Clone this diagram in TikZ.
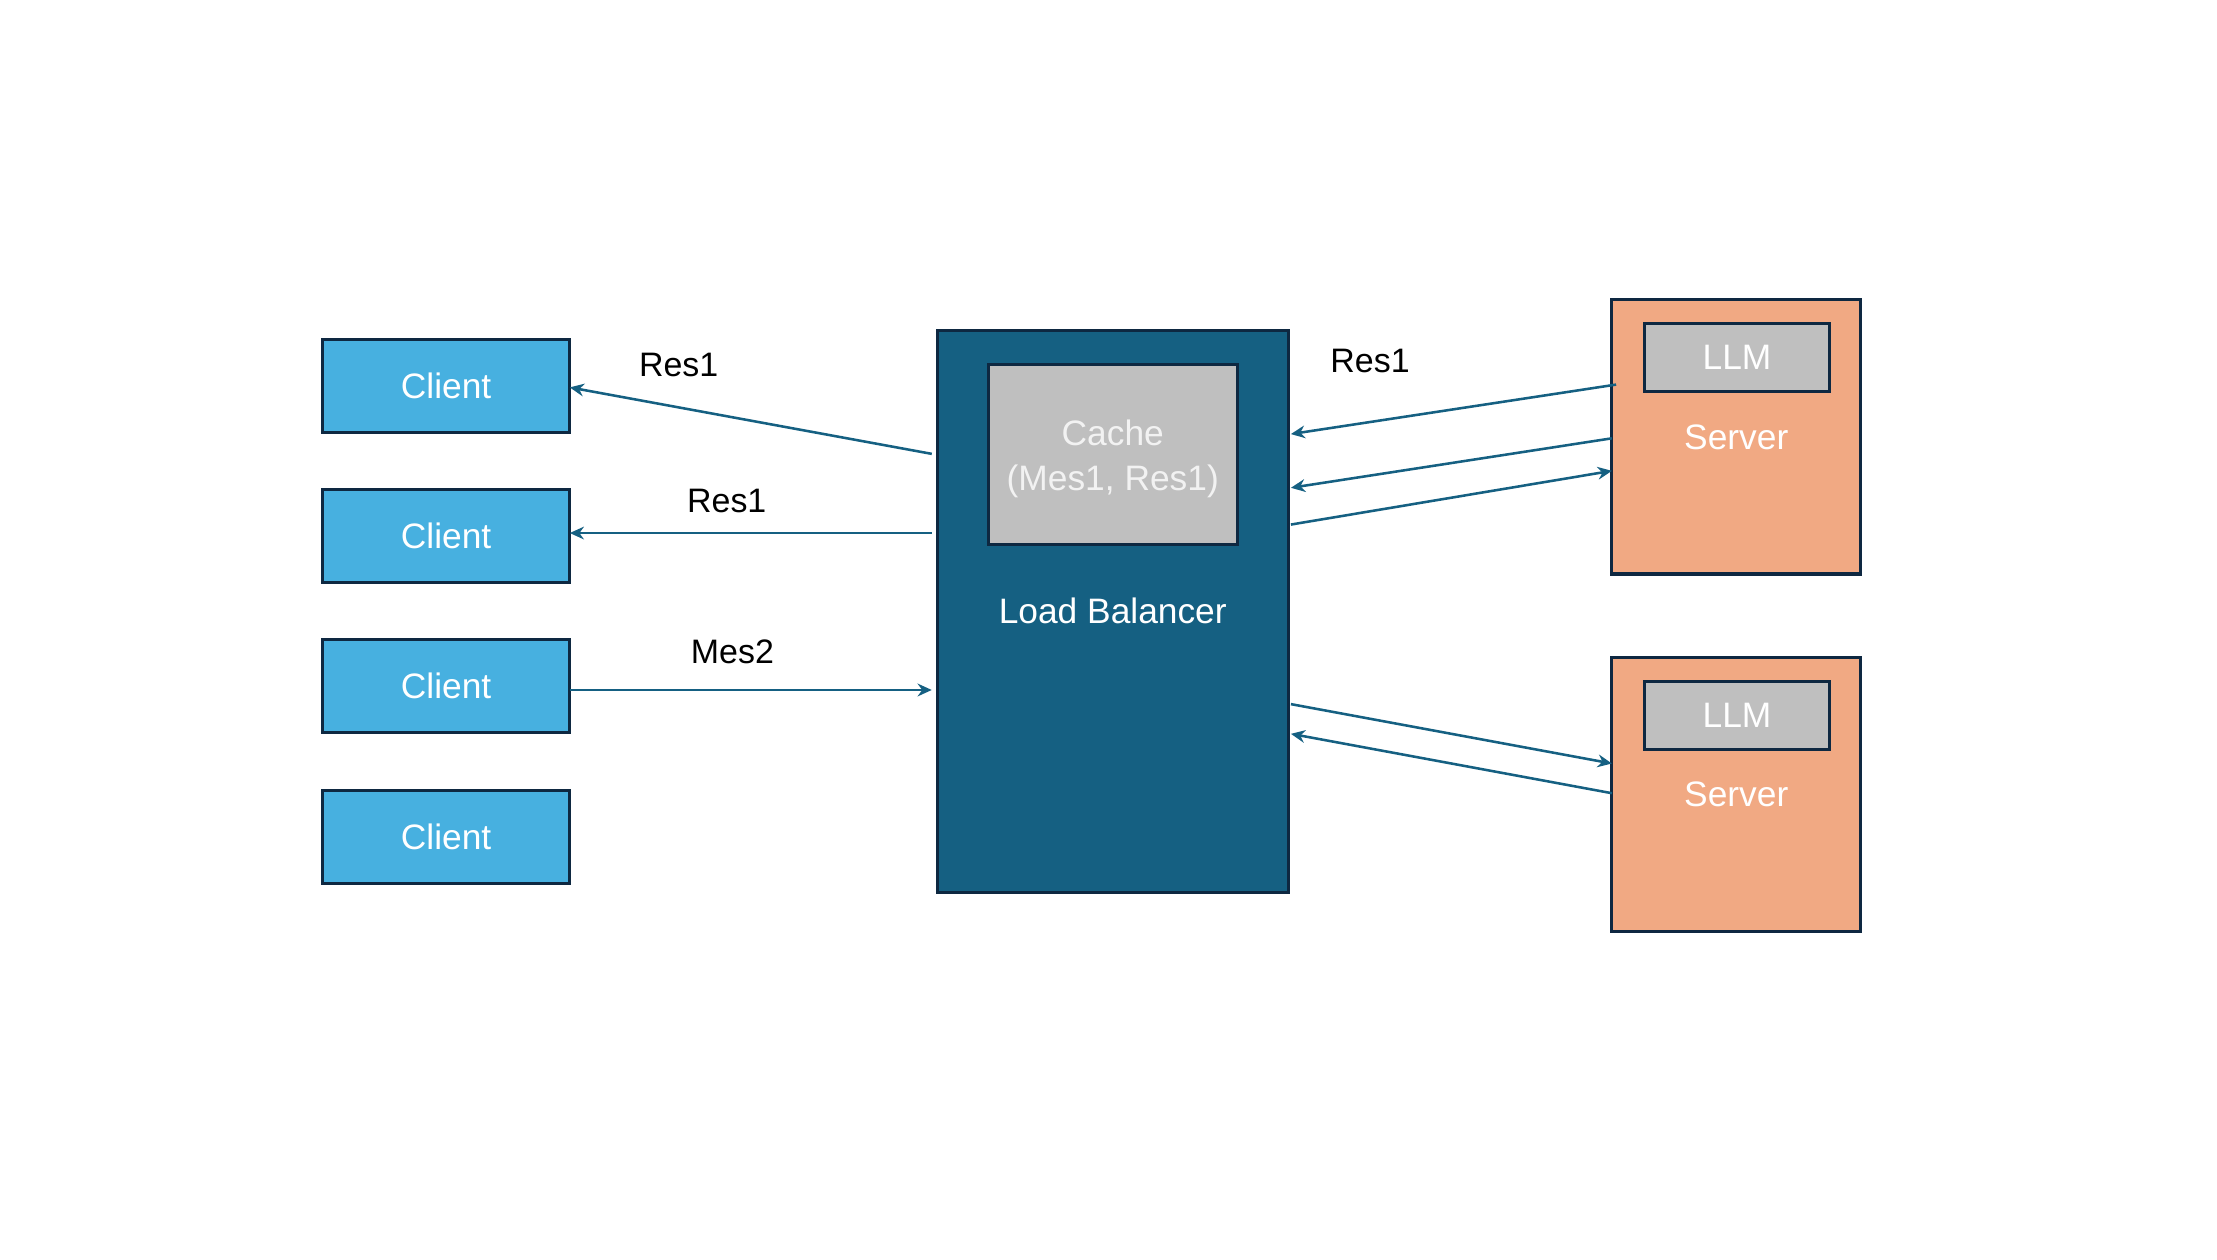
\documentclass[tikz,border=0pt]{standalone}
\usepackage{fontspec}
\setmainfont{Liberation Sans}
\usetikzlibrary{arrows.meta}
\definecolor{clientblue}{HTML}{47B0E0}
\definecolor{lbblue}{HTML}{156082}
\definecolor{edge}{HTML}{0E2841}
\definecolor{cachegray}{HTML}{BFBFBF}
\definecolor{serverorange}{HTML}{F1A983}
\definecolor{cachetext}{HTML}{F2F2F2}
\begin{document}
\begin{tikzpicture}[x=1pt,y=-1pt,
  box/.style={draw=edge, line width=2.2pt, inner sep=0pt, outer sep=0pt, align=center,
    font=\fontsize{25}{32}\selectfont},
  client/.style={box, fill=clientblue, text=white, minimum width=175pt, minimum height=66pt},
  lbbox/.style={box, fill=lbblue, minimum width=248pt, minimum height=397pt},
  cachebox/.style={box, fill=cachegray, minimum width=176pt, minimum height=127pt},
  serverbox/.style={box, fill=serverorange, minimum width=176pt, minimum height=194pt},
  llmbox/.style={box, fill=cachegray, text=white, minimum width=131pt, minimum height=48pt},
  whitelabel/.style={text=white, inner sep=0pt, font=\fontsize{25}{32}\selectfont},
  cachelabel/.style={text=cachetext, inner sep=0pt, align=center, font=\fontsize{25}{32}\selectfont},
  blacklabel/.style={text=black, inner sep=0pt, font=\fontsize{24}{30}\selectfont},
  conn/.style={draw=lbblue, line width=1.8pt, -{Stealth[length=10pt,width=9pt]}}
]
\useasboundingbox (0,0) rectangle (1568,890.5);
\fill[white] (0,0) rectangle (1568,890.5);

% clients
\node[client] (c1) at (315.5,273) {Client};
\node[client] (c2) at (315.5,379) {Client};
\node[client] (c3) at (315.5,485) {Client};
\node[client] (c4) at (315.5,592) {Client};

% load balancer
\node[lbbox] (lb) at (787,432.5) {};
\node[whitelabel] (lbl) at (787,432) {Load Balancer};
\node[cachebox] (cache) at (787,321.5) {};
\node[cachelabel] (cachel) at (787,324.5) {Cache\\(Mes1, Res1)};

% servers
\node[serverbox] (s1) at (1228,309) {};
\node[whitelabel] (s1l) at (1228,309) {Server};
\node[llmbox] (llm1) at (1228.5,253) {LLM};
\node[serverbox] (s2) at (1228,562) {};
\node[whitelabel] (s2l) at (1228,562) {Server};
\node[llmbox] (llm2) at (1228.5,506) {LLM};

% labels
\node[blacklabel] (r1) at (480,258) {Res1};
\node[blacklabel] (r2) at (514,354) {Res1};
\node[blacklabel] (m2) at (518,461) {Mes2};
\node[blacklabel] (r3) at (969,255) {Res1};

% client-side connectors
\draw[conn] ([xshift=-4pt,yshift=111.5pt]lb.west) -- ([yshift=-1pt]c1.east);
\draw[conn] ([xshift=-4pt,yshift=55.5pt]lb.west) -- ([yshift=2pt]c2.east);
\draw[conn] ([yshift=-3pt]c3.east) -- ([xshift=-4pt,yshift=-55.5pt]lb.west);

% server-side connectors
\draw[conn] ([xshift=3pt,yshift=37pt]s1.west) -- ([xshift=2pt,yshift=125.5pt]lb.east);
\draw[conn] ([yshift=-1pt]s1.west) -- ([xshift=2pt,yshift=87.5pt]lb.east);
\draw[conn] ([xshift=2pt,yshift=61.5pt]lb.east) -- ([yshift=-24pt]s1.west);
\draw[conn] ([xshift=2pt,yshift=-65.5pt]lb.east) -- ([yshift=22pt]s2.west);
\draw[conn] ([yshift=1pt]s2.west) -- ([xshift=2pt,yshift=-86.5pt]lb.east);
\end{tikzpicture}
\end{document}
